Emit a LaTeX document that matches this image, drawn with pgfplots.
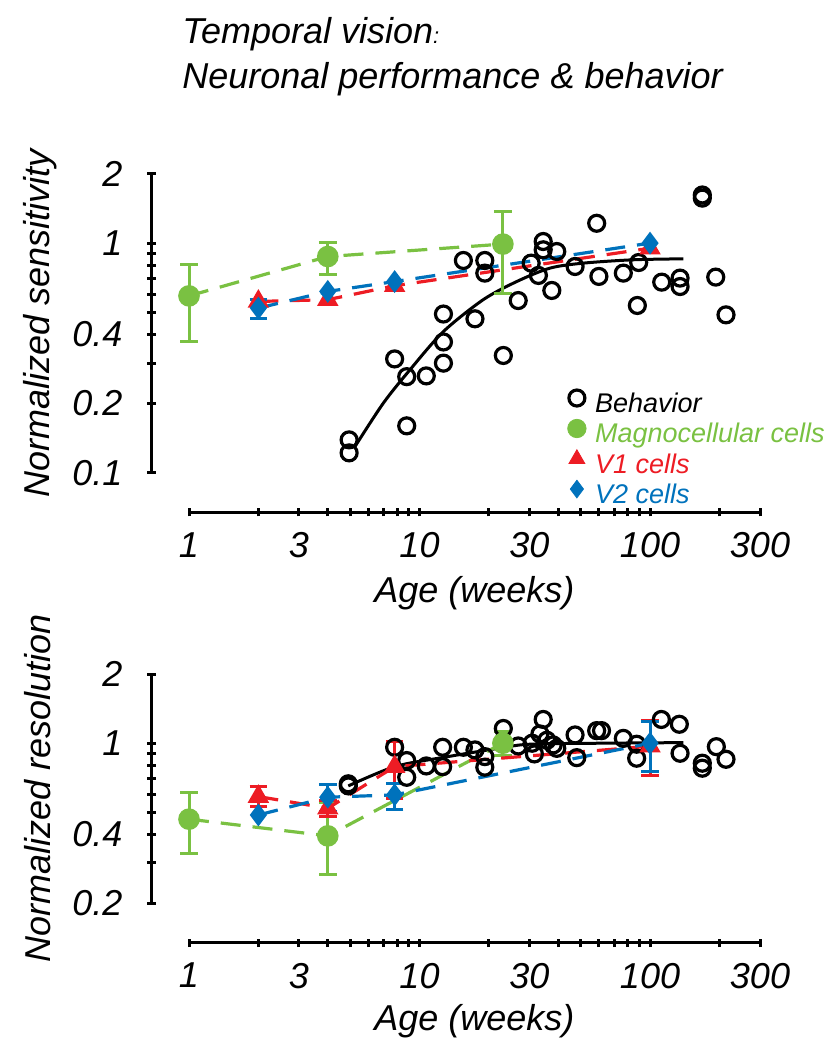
\documentclass[border=0pt]{standalone}
\usepackage{pgfplots}
\pgfplotsset{compat=1.18}
\usepackage{fontspec}
\setmainfont{Liberation Sans}
\definecolor{mgreen}{RGB}{122,193,66}
\definecolor{mred}{RGB}{237,28,36}
\definecolor{mblue}{RGB}{0,114,188}
\pgfplotsset{
  mycommon/.style={
    scale only axis, clip=false,
    axis line style={-, line width=1.5pt, black},
    tick align=outside, major tick length=4.25pt,
    tick style={line width=1.5pt, black},
    tick label style={font=\fontsize{18}{20}\selectfont\itshape},
    label style={font=\fontsize{18}{20}\selectfont\itshape},
  },
  myx/.style={mycommon, width=285.5pt, height=1pt,
    xmin=1, xmax=300, ymin=0, ymax=1,
    axis x line=bottom, axis y line=none,
    x axis line style={-}, every outer x axis line/.append style={-},
    every inner x axis line/.append style={-},
    xtick={1,2,3,4,5,6,7,8,9,10,20,30,40,50,60,70,80,90,100,200,300},
    xticklabels={1,,3,,,,,,,10,,30,,,,,,,100,,300},
    xticklabel style={yshift=-4.5pt},
    minor xtick={},
    xlabel={Age (weeks)},
  },
  myy/.style={mycommon, width=1pt,
    xmin=0, xmax=1,
    axis y line=left, axis x line=none,
    y axis line style={-}, every outer y axis line/.append style={-},
    every inner y axis line/.append style={-},
    yticklabel style={xshift=-9pt},
    minor ytick={},
  },
  mydata/.style={scale only axis, clip=false, hide axis, width=285.5pt,
    xmin=1, xmax=300},
  mybeh/.style={only marks, mark=o, mark size=4pt, line width=1.6pt, black},
  mydl/.style={dash pattern=on 10pt off 6pt, line width=1.6pt, mark options={solid}},
  myeb/.style={only marks, mark=none, forget plot, color=#1,
     error bars/y dir=both, error bars/y explicit,
     error bars/error bar style={color=#1, solid, line width=1.5pt},
     error bars/error mark options={color=#1, rotate=90, mark size=4.4pt, line width=1.5pt}},
}
\begin{document}
\begin{tikzpicture}
\useasboundingbox (0,0) rectangle (414pt,525pt);
\node[anchor=base west, inner sep=0pt, font=\fontsize{18}{20}\selectfont\itshape] at (91pt,503.35pt) {Temporal vision{\fontsize{11}{11}\selectfont:}};
\node[anchor=base west, inner sep=0pt, font=\fontsize{18}{20}\selectfont\itshape] at (91pt,480.85pt) {Neuronal performance \& behavior};

% ================= top panel =================
\begin{semilogxaxis}[myx, at={(94.5pt,268.9pt)}, anchor=south west,
  xlabel style={at={(axis description cs:0.5,0)}, anchor=base, yshift=-45pt}]
\end{semilogxaxis}
\begin{semilogyaxis}[myy, at={(75.85pt,288.65pt)}, anchor=south west, height=149.35pt,
  ymin=0.1, ymax=2,
  ytick={0.1,0.2,0.3,0.4,0.5,0.6,0.7,0.8,0.9,1,2},
  yticklabels={0.1,0.2,,0.4,,,,,,1,2},
  ylabel={Normalized sensitivity},
  ylabel style={at={(axis description cs:0,0.5)}, anchor=base, yshift=50.85pt}]
\end{semilogyaxis}
\begin{loglogaxis}[mydata, at={(94.5pt,288.65pt)}, anchor=south west, height=149.35pt,
  ymin=0.1, ymax=2,
  legend style={at={(rel axis cs:0.652,0.2915)}, anchor=north west, draw=none, fill=none,
    font=\fontsize{13.5}{15}\selectfont\itshape, row sep=1pt,
    nodes={inner sep=1pt},
    /tikz/every odd column/.append style={column sep=3.5pt}},
  legend image post style={yshift=3pt},
  legend cell align=left,
]
\addplot[black, line width=1.5pt, smooth, forget plot] coordinates {
 (5.25,0.13) (6.97,0.201) (9.1,0.281) (12.7,0.412) (18.9,0.567) (26.4,0.68)
 (36.8,0.778) (51.4,0.818) (84.7,0.846) (139.6,0.854)};
\addplot[mybeh, forget plot] coordinates {
 (4.95,0.139) (4.95,0.122) (7.8,0.313) (8.8,0.262) (8.8,0.160) (10.7,0.264)
 (12.7,0.491) (12.7,0.371) (12.7,0.300) (15.5,0.84) (17.4,0.468) (19.2,0.84)
 (19.2,0.74) (23.1,0.324) (26.8,0.562) (30.5,0.818) (32.8,0.723) (34.4,1.016)
 (34.4,0.935) (39.4,0.919) (37.5,0.622) (47.3,0.791) (58.7,1.22) (60,0.716)
 (76.6,0.74) (88.1,0.535) (89.3,0.823) (112.4,0.676) (135,0.704) (135,0.647)
 (168.6,1.62) (168.6,1.57) (192.8,0.711) (213.6,0.487)};
\addplot[myeb=mgreen] table[x=x, y=y, y error plus=ep, y error minus=em] {
 x y ep em
 1 0.589 0.215 0.218
 4 0.874 0.136 0.141
 23 0.99 0.383 0.389
};
\addplot[mgreen, mydl, mark=*, mark size=4.6pt, forget plot] coordinates {(1,0.589) (4,0.874) (23,0.99)};
\addplot[mred, mydl, mark=triangle*, mark size=4.6pt, forget plot] coordinates {(2,0.557) (4,0.567) (7.8,0.652) (100,0.95)};
\addplot[myeb=mblue] table[x=x, y=y, y error plus=ep, y error minus=em] {
 x y ep em
 2 0.521 0.046 0.053
};
\addplot[mblue, mydl, mark=diamond*, mark size=4.4pt, mark options={solid, scale=1}, forget plot] coordinates {(2,0.521) (4,0.616) (7.8,0.68) (100,1.0)};
\addlegendimage{only marks, mark=o, mark size=4pt, line width=1.6pt, black}
\addlegendentry{Behavior}
\addlegendimage{only marks, mark=*, mark size=4.6pt, mgreen}
\addlegendentry{\textcolor{mgreen}{Magnocellular cells}}
\addlegendimage{only marks, mark=triangle*, mark size=4.6pt, mred}
\addlegendentry{\textcolor{mred}{V1 cells}}
\addlegendimage{only marks, mark=diamond*, mark size=4.4pt, mblue}
\addlegendentry{\textcolor{mblue}{V2 cells}}
\end{loglogaxis}

% ================= bottom panel =================
\begin{semilogxaxis}[myx, at={(94.5pt,53.6pt)}, anchor=south west,
  xlabel style={at={(axis description cs:0.5,0)}, anchor=base, yshift=-43.85pt}]
\end{semilogxaxis}
\begin{semilogyaxis}[myy, at={(75.85pt,73.35pt)}, anchor=south west, height=114.5pt,
  ymin=0.2, ymax=2,
  ytick={0.2,0.3,0.4,0.5,0.6,0.7,0.8,0.9,1,2},
  yticklabels={0.2,,0.4,,,,,,1,2},
  ylabel={Normalized resolution},
  ylabel style={at={(axis description cs:0,0.5)}, anchor=base, yshift=50.85pt}]
\end{semilogyaxis}
\begin{loglogaxis}[mydata, at={(94.5pt,73.35pt)}, anchor=south west, height=114.5pt,
  ymin=0.2, ymax=2]
\addplot[black, line width=1.5pt, smooth] coordinates {
 (4.91,0.651) (7.8,0.79) (12.5,0.865) (22,0.95) (30,0.99) (60,1.0) (139.6,1.006)};
\addplot[mybeh] coordinates {
 (4.91,0.651) (4.91,0.665) (7.8,0.96) (8.8,0.84) (8.8,0.71) (10.7,0.796)
 (12.6,0.96) (12.6,0.79) (15.5,0.96) (17.4,0.935) (19.2,0.786) (19.2,0.874)
 (23.1,1.16) (26.8,0.973) (30.8,1.0) (31.5,0.898) (33.3,1.098) (34.4,1.27)
 (35.7,1.03) (38.0,0.983) (39.4,0.95) (47.3,1.087) (48.1,0.865) (58.7,1.135)
 (61.6,1.135) (76.6,1.05) (87.5,0.99) (87.5,0.86) (112,1.27) (134,1.21)
 (135,0.904) (168.6,0.818) (168.6,0.778) (194,0.966) (213.6,0.851)};
\addplot[myeb=mgreen] table[x=x, y=y, y error plus=ep, y error minus=em] {
 x y ep em
 1 0.466 0.143 0.137
 4 0.394 0.156 0.126
 23 1.0 0.12 0.12
};
\addplot[mgreen, mydl, mark=*, mark size=4.6pt] coordinates {(1,0.466) (4,0.394) (23,1.0)};
\addplot[myeb=mred] table[x=x, y=y, y error plus=ep, y error minus=em] {
 x y ep em
 2 0.585 0.061 0.056
 4 0.52 0.04 0.042
 7.8 0.79 0.226 0.215
 100 0.97 0.29 0.25
};
\addplot[mred, mydl, mark=triangle*, mark size=4.6pt] coordinates {(2,0.585) (4,0.52) (7.8,0.79) (100,0.97)};
\addplot[myeb=mblue] table[x=x, y=y, y error plus=ep, y error minus=em] {
 x y ep em
 4 0.581 0.077 0.078
 7.8 0.595 0.074 0.079
 100 1.0 0.243 0.248
};
\addplot[mblue, mydl, mark=diamond*, mark size=4.4pt] coordinates {(2,0.486) (4,0.581) (7.8,0.595) (100,1.0)};
\end{loglogaxis}
\end{tikzpicture}
\end{document}
